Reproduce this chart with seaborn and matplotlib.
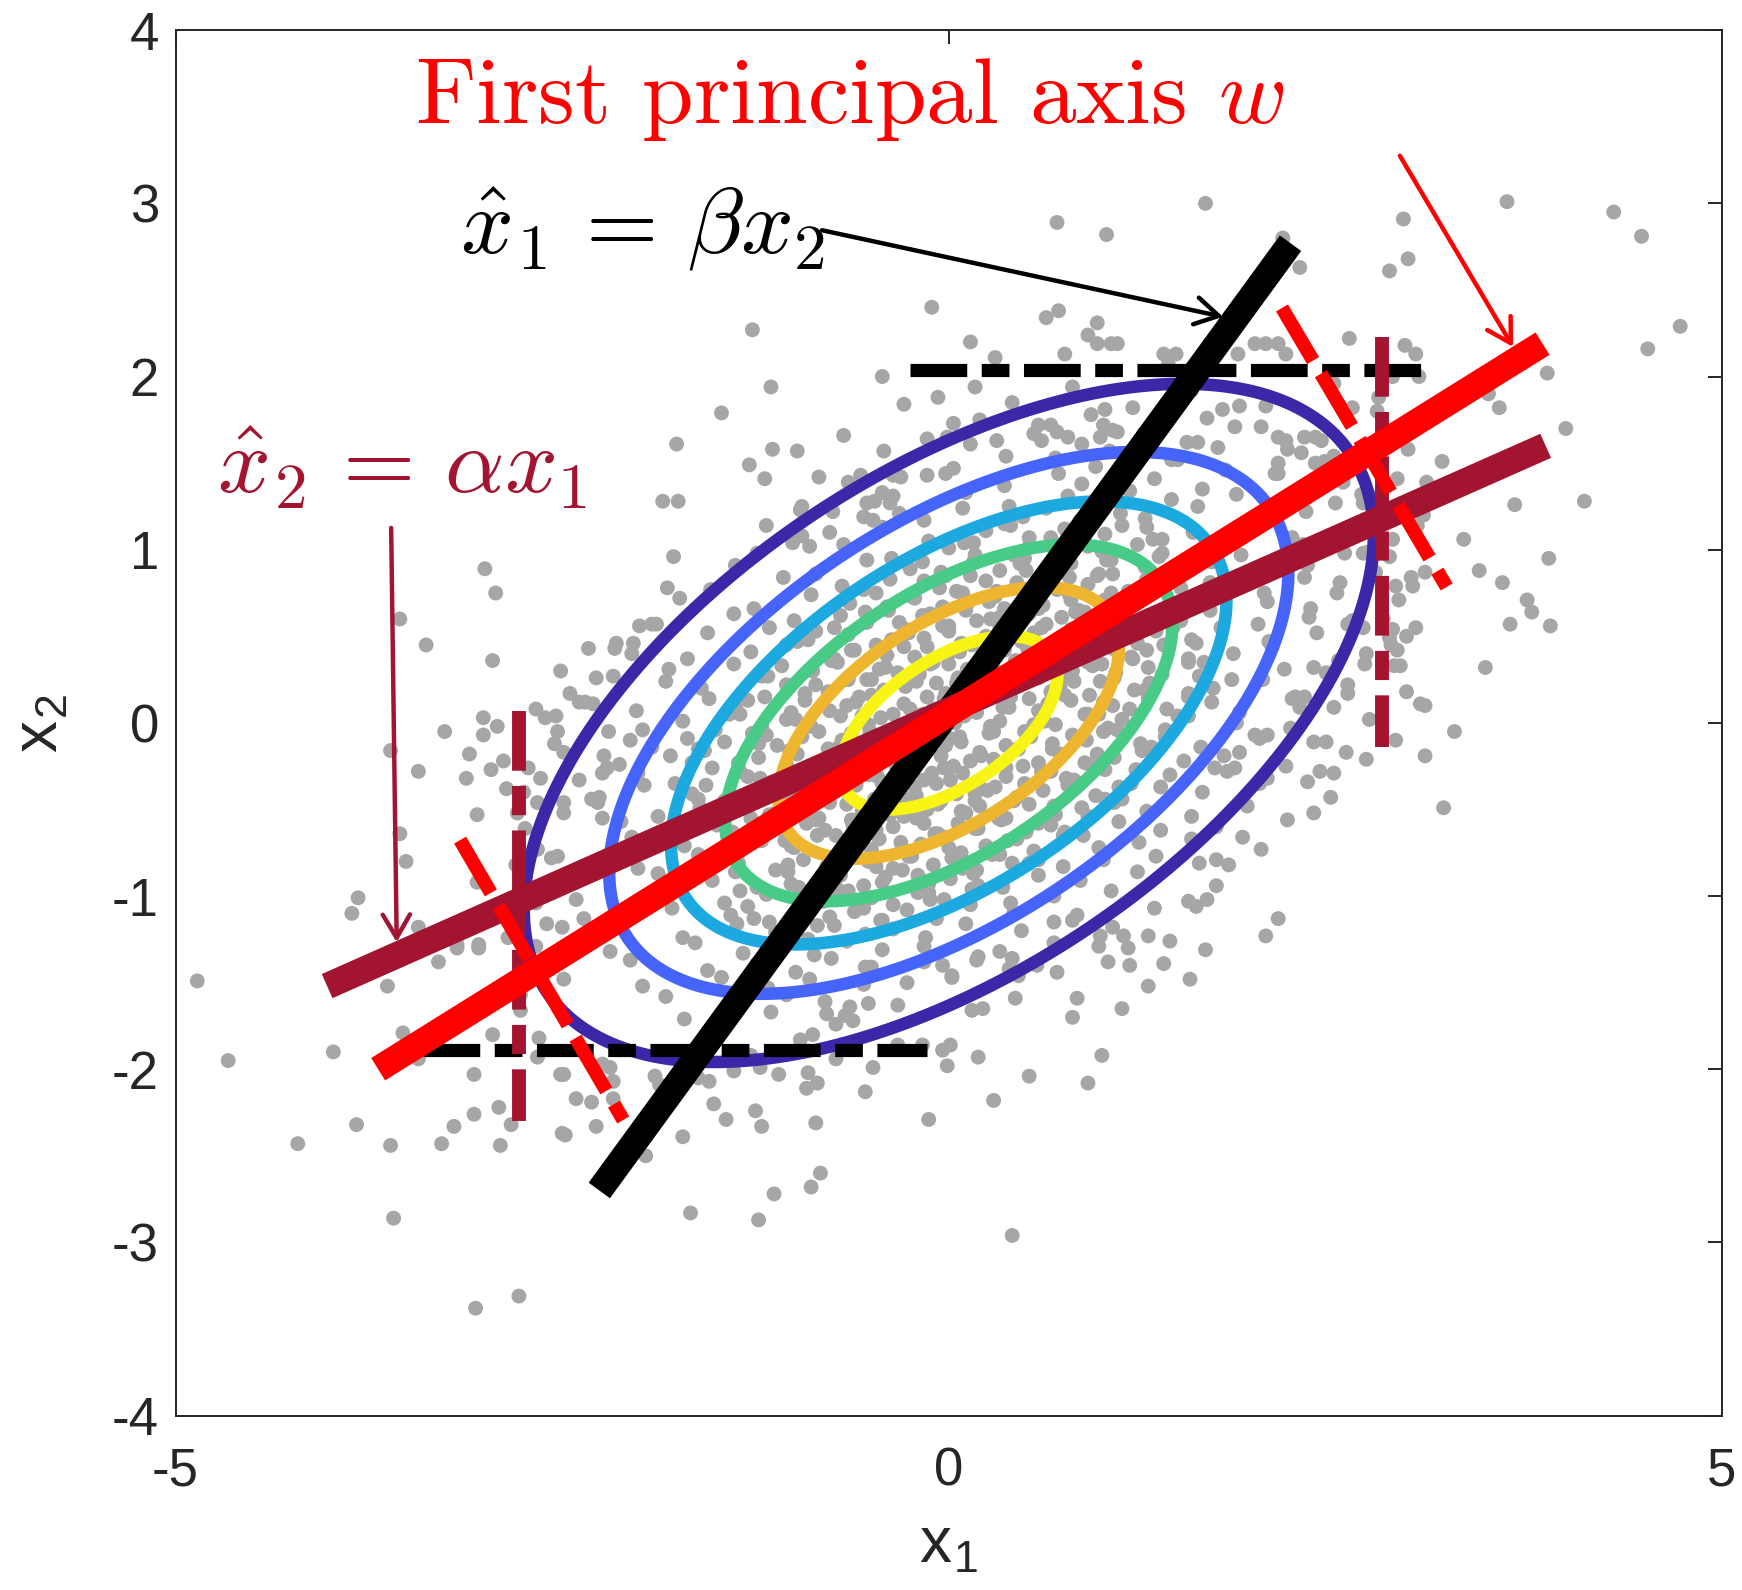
import numpy as np
import pandas as pd
import matplotlib
matplotlib.use("Agg")
import matplotlib.pyplot as plt
import seaborn as sns

# ---------------- data ----------------
# sparse points (mostly outside / near the outer contour)
outer_pts = [
(1.66,3.00),(3.61,3.01),(4.30,2.95),(4.48,2.81),(2.94,2.91),(0.70,2.89),(1.02,2.82),(2.27,2.63),(2.16,2.80),(2.97,2.68),
(2.85,2.61),(4.73,2.29),(4.52,2.16),(3.87,2.02),(3.49,1.90),(3.56,1.82),(3.99,1.70),(2.59,2.22),(2.95,2.18),(3.02,2.13),
(2.87,2.00),(3.04,2.00),(2.49,1.96),(2.78,1.88),(2.77,1.80),(2.61,1.82),(2.97,1.58),(3.19,1.51),(2.90,1.41),(3.09,1.39),
(2.67,1.32),(2.50,1.27),(2.68,1.27),(3.66,1.26),(4.11,1.28),(3.03,1.14),(3.07,1.20),(3.33,1.06),(2.87,1.06),(3.88,0.95),
(2.56,0.98),(2.68,0.98),(2.85,0.96),(2.49,1.54),(3.43,0.88),(3.58,0.81),(3.74,0.71),(3.77,0.64),(3.63,0.57),(3.89,0.56),
(2.53,0.81),(2.51,0.75),(2.99,0.84),(3.00,0.79),(3.08,0.87),(2.58,0.57),(2.61,0.59),(2.68,0.55),(2.87,0.54),(3.02,0.55),
(2.96,0.50),(2.86,0.45),(2.70,0.40),(2.69,0.34),(2.88,0.33),(3.47,0.32),(2.58,0.17),(3.08,0.10),(3.27,-0.05),(2.89,-0.10),
(2.70,-0.21),(3.08,-0.19),(3.20,-0.49),(2.36,0.32),(2.22,0.14),(2.27,0.09),(2.36,-0.11),(2.40,-0.28),(2.32,-0.34),(1.98,-0.07),
(2.06,-0.07),(1.88,-0.17),(1.80,-0.28),(1.85,-0.26),(1.90,-0.66),(1.62,-0.81),(1.73,-0.79),(1.60,-1.06),(1.67,-1.02),(2.13,-1.13),
(2.05,-1.23),(1.29,-1.23),(1.43,-1.26),(1.13,-1.23),(1.06,-1.18),(0.83,-1.11),(0.68,-1.15),(1.66,-1.31),(1.39,-1.39),(1.56,-1.48),
(1.29,-1.52),(1.17,-1.40),(1.03,-1.38),(1.16,-1.30),(0.97,-1.29),(0.70,-1.44),(0.57,-1.40),(0.45,-1.46),(0.41,-1.36),(0.33,-1.32),
(0.18,-1.37),(0.02,-1.47),(0.83,-1.59),(0.80,-1.70),(1.12,-1.65),(0.43,-1.59),(0.15,-1.66),(0.22,-1.65),(0.01,-1.86),(-0.01,-1.98),
(0.19,-1.93),(0.99,-1.92),(0.52,-2.04),(0.90,-2.08),(0.29,-2.18),(0.41,-2.96),(-0.54,-2.13),(-0.13,-2.29),(-0.86,-2.31),(-0.49,-1.99),
(-0.91,-2.02),(-0.92,-2.11),(-0.85,-2.08),(-1.25,-2.24),(-1.21,-2.33),(-1.10,-2.03),(-1.44,-2.29),(-1.52,-2.20),(-1.39,-2.01),(-1.22,-1.99),
(-1.55,-2.07),(-1.62,-2.05),(-1.72,-2.39),(-1.96,-2.50),(-0.83,-2.60),(-0.89,-2.68),(-1.13,-2.72),(-1.67,-2.83),(-1.23,-2.87),(-1.90,-2.04),
(-1.87,-2.09),(-2.17,-2.07),(-2.17,-2.17),(-2.19,-1.99),(-2.24,-1.97),(-2.41,-2.17),(-2.31,-2.19),(-2.28,-2.33),(-2.48,-2.38),(-2.49,-2.03),
(-0.33,-1.63),(-0.27,-1.50),(-0.54,-1.41),(-0.04,-1.40),(-0.73,-1.74),(-0.64,-1.64),(-0.67,-1.69),(-0.79,-1.68),(-0.80,-1.61),(-0.88,-1.80),
(-0.73,-1.94),(-0.33,-1.86),(-0.17,-1.86),(-0.04,-1.89),(-4.86,-1.49),(-4.66,-1.95),(-3.98,-1.90),(-3.53,-1.79),(-3.43,-1.94),(-3.63,-1.52),
(-3.30,-1.38),(-3.18,-1.30),(-3.04,-1.30),(-2.95,-1.80),(-3.07,-2.03),(-2.65,-1.82),(-2.66,-1.93),(-2.51,-2.03),(-2.77,-1.57),(-2.77,-1.66),
(-2.91,-2.22),(-3.07,-2.26),(-3.20,-2.33),(-2.83,-2.32),(-2.90,-2.44),(-3.28,-2.43),(-3.61,-2.44),(-3.83,-2.32),(-4.21,-2.43),(-2.50,-2.37),
(-3.59,-2.86),(-2.78,-3.31),(-3.06,-3.38),(-2.49,-1.48),(-3.00,0.89),(-2.93,0.75),(-3.55,0.60),(-3.38,0.45),(-2.95,0.36),(-2.51,0.30),
(-2.67,0.08),(-3.01,0.03),(-2.92,-0.02),(-3.26,-0.05),(-2.54,0.04),(-2.53,-0.05),(-3.61,-0.16),(-3.43,-0.28),(-3.10,-0.18),(-3.12,-0.32),
(-2.72,-0.26),(-2.64,-0.32),(-3.05,-0.53),(-2.66,-0.46),(-2.75,-0.40),(-3.55,-0.64),(-3.51,-0.80),(-2.80,-0.82),(-2.53,-0.77),(-3.05,-0.92),
(-3.82,-1.01),(-3.86,-1.10),(-3.43,-1.18),(-2.60,-1.16),(-2.50,-1.18),(-2.67,-1.04),(-3.18,-1.28),(-3.04,-1.28),(-2.85,-1.24),(-2.67,-1.29),
(-0.11,2.40),(-1.27,2.27),(-1.15,1.94),(-0.43,2.00),(-0.29,1.84),(-0.07,1.88),(-1.47,1.79),(-1.76,1.61),(-1.14,1.58),(-0.98,1.57),
(-1.29,1.49),(-1.19,1.41),(-0.84,1.42),(-0.68,1.66),(-0.42,1.57),(-1.85,1.28),(-1.75,1.28),(-1.18,1.14),(-1.78,0.96),(-0.65,1.39),
(-0.57,1.43),(-0.36,1.43),(-0.14,1.43),(-0.02,1.44),(-0.14,1.64),(-0.01,1.65),(-0.95,1.25),(-0.96,1.23),(-0.77,1.10),(-0.90,1.02),
(-1.01,1.04),(-0.43,1.33),(-0.36,1.31),(-0.53,1.27),(-0.55,1.19),(-0.49,1.17),(-0.32,1.21),(-0.38,1.27),(0.63,2.34),(0.71,2.38),
(0.96,2.31),(0.90,2.24),(0.96,2.19),(1.05,2.19),(1.09,2.19),(0.14,2.20),(0.30,2.11),(0.75,2.13),(1.39,2.13),(1.47,2.13),
(1.42,2.07),(1.87,2.13),(1.98,2.19),(2.05,2.19),(2.13,2.19),(2.18,2.13),(0.17,1.94),(0.80,1.94),(0.41,1.85),(1.01,1.81),
(1.19,1.82),(1.67,1.76),(1.77,1.81),(1.85,1.71),(2.05,1.83),(2.13,1.65),(2.18,1.63),(2.30,1.65),(2.37,1.65),(2.41,1.63),
(2.28,1.56),(2.13,1.50),(2.13,1.44),(2.37,1.50),(2.45,1.41),(0.03,1.73),(0.20,1.75),(0.14,1.61),(0.37,1.54),(0.55,1.67),
(0.60,1.63),(0.66,1.72),(0.70,1.68),(0.77,1.65),(0.98,1.65),(1.00,1.72),(1.06,1.69),(1.09,1.68),(0.86,1.61),(1.54,1.62),
(1.74,1.59),(1.48,1.52),(-1.82,0.78),(-2.33,0.43),(-2.15,0.46),(-2.00,0.56),(-1.92,0.57),(-2.05,0.40),(-2.35,0.12),(-2.30,0.11),
(-2.17,0.27),(-2.23,-0.19),(-2.21,-0.26),(-2.24,-0.29),(-2.06,-0.10),(-2.49,-0.46),(-2.49,-0.52),(-2.24,-0.55),(-2.26,-0.43),
]

# dense core, estimated row by row (x values, y values)
core_x_rows = [
[1.57],
[0.92,1.88],
[0.58,1.26,2.02],
[0.31,1.04,1.61,2.19],
[0.03,0.69,0.95,1.44,1.79,2.43],
[-0.31,0.36,0.71,0.86,1.33,1.64,2.11,2.55],
[-0.48,0.11,0.39,0.77,0.93,1.17,1.44,1.86,2.19,2.76],
[-0.75,-0.16,0.09,0.48,0.63,0.91,1.11,1.27,1.61,1.95,2.31,2.83],
[-0.95,-0.43,-0.13,0.24,0.36,0.66,0.75,1.01,1.12,1.38,1.58,1.94,2.22,2.68],
[-1.24,-0.68,-0.37,0.00,0.16,0.42,0.52,0.74,0.88,0.99,1.22,1.36,1.67,1.89,2.29,2.72],
[-1.38,-0.86,-0.53,-0.25,-0.02,0.16,0.33,0.49,0.62,0.79,0.97,1.02,1.27,1.45,1.70,1.96,2.32,2.76],
[-1.54,-1.07,-0.69,-0.47,-0.16,-0.06,0.14,0.31,0.44,0.59,0.70,0.90,0.96,1.16,1.28,1.50,1.69,2.04,2.30,2.89],
[-1.74,-1.26,-0.89,-0.64,-0.39,-0.24,-0.04,0.09,0.26,0.36,0.51,0.61,0.78,0.84,1.01,1.20,1.30,1.55,1.68,2.06,2.34,2.91],
[-1.89,-1.39,-1.00,-0.74,-0.54,-0.32,-0.17,0.00,0.11,0.27,0.37,0.52,0.60,0.73,0.88,0.99,1.17,1.29,1.50,1.69,2.00,2.33,2.81],
[-2.04,-1.56,-1.16,-0.91,-0.65,-0.47,-0.28,-0.16,0.00,0.08,0.24,0.33,0.47,0.55,0.70,0.79,0.94,1.04,1.22,1.34,1.57,1.76,2.07,2.38,2.85],
[-2.16,-1.69,-1.28,-1.05,-0.76,-0.61,-0.40,-0.29,-0.10,0.00,0.15,0.21,0.36,0.43,0.57,0.66,0.80,0.90,1.06,1.18,1.39,1.55,1.84,2.09,2.52,2.90],
[-2.28,-1.81,-1.39,-1.17,-0.88,-0.72,-0.50,-0.41,-0.19,-0.12,0.06,0.12,0.27,0.33,0.50,0.55,0.74,0.80,0.99,1.07,1.29,1.38,1.65,1.83,2.17,2.44,2.92],
[-2.45,-1.83,-1.60,-1.19,-1.05,-0.78,-0.65,-0.50,-0.28,-0.21,-0.02,0.05,0.19,0.26,0.42,0.47,0.66,0.72,0.91,0.98,1.20,1.30,1.55,1.71,2.03,2.30,2.58,2.96],
[-2.39,-2.02,-1.55,-1.38,-1.02,-0.93,-0.66,-0.58,-0.36,-0.29,-0.10,-0.03,0.12,0.18,0.35,0.40,0.58,0.64,0.79,0.97,1.06,1.29,1.41,1.70,1.88,2.24,2.49,3.05],
[-2.61,-1.98,-1.72,-1.35,-1.21,-0.99,-0.84,-0.70,-0.52,-0.44,-0.30,-0.17,-0.11,0.04,0.10,0.27,0.33,0.49,0.61,0.69,0.88,1.03,1.12,1.40,1.55,1.86,2.21,2.72],
[-3.01,-2.55,-2.20,-1.92,-1.69,-1.45,-1.27,-1.11,-0.95,-0.78,-0.69,-0.51,-0.42,-0.24,-0.15,0.01,0.08,0.26,0.37,0.53,0.67,0.89,1.00,1.24,1.41,1.63,2.01,2.44],
[-2.88,-2.49,-2.13,-1.80,-1.62,-1.36,-1.23,-1.03,-0.90,-0.71,-0.61,-0.46,-0.35,-0.19,-0.05,0.03,0.20,0.29,0.45,0.58,0.72,0.91,1.07,1.25,1.52,1.78,2.18,2.57],
[-2.96,-2.39,-2.01,-1.77,-1.53,-1.30,-1.14,-0.98,-0.83,-0.68,-0.52,-0.43,-0.27,-0.16,-0.03,0.09,0.19,0.37,0.48,0.66,0.81,1.01,1.18,1.43,1.72,2.06,2.49],
[-2.86,-2.31,-1.97,-1.66,-1.45,-1.24,-1.06,-0.91,-0.74,-0.60,-0.48,-0.33,-0.21,-0.08,0.05,0.17,0.30,0.44,0.61,0.77,0.95,1.12,1.37,1.64,2.01,2.47],
[-2.79,-2.27,-1.88,-1.61,-1.39,-1.16,-0.99,-0.84,-0.66,-0.56,-0.40,-0.29,-0.14,-0.05,0.11,0.20,0.37,0.52,0.69,0.86,1.07,1.28,1.57,1.93,2.36],
[-2.74,-2.12,-1.77,-1.50,-1.28,-1.06,-0.92,-0.73,-0.63,-0.47,-0.36,-0.21,-0.09,0.06,0.19,0.34,0.50,0.66,0.87,1.10,1.37,1.73,2.19],
[-2.66,-2.05,-1.71,-1.42,-1.21,-1.00,-0.85,-0.69,-0.57,-0.45,-0.30,-0.18,-0.03,0.08,0.24,0.38,0.55,0.74,0.97,1.23,1.57,2.02],
[-2.57,-2.01,-1.62,-1.36,-1.12,-0.94,-0.79,-0.64,-0.52,-0.36,-0.24,-0.10,0.02,0.18,0.33,0.52,0.74,1.00,1.34,1.81],
[-2.47,-1.88,-1.53,-1.24,-1.04,-0.85,-0.70,-0.55,-0.41,-0.30,-0.13,0.01,0.16,0.35,0.58,0.85,1.22,1.73],
[-2.41,-1.85,-1.45,-1.18,-0.97,-0.81,-0.65,-0.50,-0.36,-0.20,-0.03,0.15,0.40,0.68,1.05,1.55],
[-2.36,-1.79,-1.41,-1.16,-0.93,-0.77,-0.61,-0.44,-0.27,-0.08,0.14,0.42,0.80,1.33],
[-2.26,-1.72,-1.37,-1.12,-0.91,-0.74,-0.54,-0.36,-0.15,0.11,0.47,0.98],
[-2.19,-1.64,-1.33,-1.08,-0.87,-0.66,-0.43,-0.16,0.19,0.68],
[-2.06,-1.56,-1.24,-0.99,-0.76,-0.50,-0.16,0.39],
[-1.98,-1.47,-1.17,-0.90,-0.55,0.02],
[-1.83,-1.40,-1.05,-0.52],
[-1.71,-1.15,-0.62],
[-1.52,-0.96],
[-1.28],
]
core_y_rows = [
[1.92],
[1.78,1.83],
[1.72,1.67,1.71],
[1.63,1.57,1.62,1.58],
[1.47,1.53,1.48,1.52,1.46,1.51],
[1.42,1.37,1.44,1.38,1.41,1.35,1.44,1.39],
[1.28,1.33,1.25,1.31,1.26,1.34,1.29,1.32,1.26,1.30],
[1.22,1.17,1.24,1.19,1.24,1.15,1.21,1.18,1.25,1.17,1.22,1.19],
[1.08,1.13,1.05,1.11,1.15,1.07,1.12,1.09,1.14,1.06,1.10,1.14,1.07,1.11],
[0.98,1.03,0.95,1.01,1.04,0.97,1.02,0.95,1.04,0.99,1.03,0.96,1.01,0.97,1.03,0.99],
[0.91,0.86,0.94,0.89,0.85,0.93,0.88,0.95,0.87,0.92,0.86,0.94,0.90,0.85,0.93,0.88,0.91,0.87],
[0.77,0.84,0.79,0.75,0.82,0.78,0.85,0.76,0.81,0.83,0.77,0.80,0.85,0.76,0.83,0.78,0.81,0.75,0.84,0.79],
[0.72,0.66,0.74,0.69,0.65,0.73,0.67,0.75,0.70,0.66,0.72,0.68,0.74,0.65,0.71,0.69,0.75,0.67,0.73,0.70,0.66,0.71],
[0.57,0.63,0.59,0.55,0.64,0.58,0.62,0.56,0.65,0.60,0.57,0.63,0.55,0.61,0.64,0.58,0.56,0.62,0.59,0.65,0.57,0.61,0.60],
[0.46,0.52,0.55,0.48,0.51,0.45,0.54,0.49,0.53,0.46,0.50,0.55,0.47,0.52,0.45,0.54,0.49,0.51,0.46,0.53,0.48,0.55,0.47,0.52,0.49],
[0.43,0.37,0.41,0.45,0.36,0.42,0.39,0.44,0.35,0.40,0.45,0.38,0.42,0.36,0.44,0.39,0.41,0.35,0.43,0.38,0.45,0.37,0.40,0.44,0.36,0.42],
[0.26,0.31,0.34,0.27,0.30,0.35,0.25,0.32,0.28,0.34,0.26,0.31,0.35,0.29,0.25,0.33,0.27,0.30,0.34,0.26,0.32,0.28,0.35,0.25,0.31,0.29,0.33],
[0.17,0.24,0.20,0.15,0.22,0.18,0.25,0.16,0.21,0.24,0.17,0.23,0.19,0.15,0.22,0.25,0.18,0.21,0.16,0.24,0.19,0.23,0.17,0.20,0.25,0.15,0.22,0.18],
[0.12,0.07,0.14,0.09,0.06,0.13,0.10,0.15,0.05,0.11,0.08,0.14,0.06,0.12,0.09,0.15,0.07,0.11,0.13,0.05,0.10,0.14,0.08,0.12,0.06,0.15,0.09,0.11],
[0.03,-0.04,0.01,0.05,-0.02,0.02,-0.05,0.04,-0.01,0.03,-0.03,0.05,-0.04,0.00,0.04,-0.02,0.01,-0.05,0.03,-0.01,0.05,-0.03,0.02,-0.04,0.04,0.00,-0.03,0.02],
[-0.07,-0.12,-0.05,-0.14,-0.09,-0.11,-0.06,-0.13,-0.08,-0.15,-0.10,-0.05,-0.12,-0.07,-0.14,-0.09,-0.11,-0.06,-0.13,-0.08,-0.15,-0.10,-0.05,-0.12,-0.07,-0.14,-0.09,-0.11],
[-0.22,-0.17,-0.24,-0.19,-0.15,-0.23,-0.20,-0.16,-0.25,-0.18,-0.21,-0.24,-0.16,-0.22,-0.19,-0.25,-0.17,-0.21,-0.15,-0.23,-0.18,-0.24,-0.20,-0.16,-0.22,-0.19,-0.25,-0.17],
[-0.27,-0.33,-0.29,-0.35,-0.26,-0.31,-0.34,-0.28,-0.25,-0.32,-0.30,-0.35,-0.27,-0.33,-0.26,-0.29,-0.34,-0.31,-0.25,-0.28,-0.33,-0.27,-0.35,-0.30,-0.26,-0.32,-0.29],
[-0.38,-0.44,-0.36,-0.41,-0.45,-0.39,-0.35,-0.43,-0.40,-0.36,-0.44,-0.38,-0.42,-0.35,-0.41,-0.45,-0.37,-0.43,-0.39,-0.36,-0.42,-0.44,-0.37,-0.40,-0.35,-0.43],
[-0.52,-0.46,-0.54,-0.49,-0.45,-0.53,-0.48,-0.55,-0.47,-0.51,-0.46,-0.54,-0.50,-0.45,-0.52,-0.48,-0.55,-0.47,-0.53,-0.49,-0.46,-0.51,-0.54,-0.48,-0.52],
[-0.61,-0.57,-0.64,-0.59,-0.55,-0.63,-0.58,-0.65,-0.56,-0.62,-0.60,-0.55,-0.64,-0.58,-0.61,-0.56,-0.63,-0.59,-0.65,-0.57,-0.62,-0.60,-0.56],
[-0.73,-0.66,-0.71,-0.75,-0.68,-0.72,-0.65,-0.74,-0.69,-0.67,-0.73,-0.70,-0.66,-0.75,-0.71,-0.68,-0.74,-0.65,-0.72,-0.69,-0.67,-0.73],
[-0.78,-0.84,-0.76,-0.81,-0.85,-0.79,-0.83,-0.75,-0.80,-0.84,-0.77,-0.82,-0.78,-0.85,-0.76,-0.81,-0.83,-0.79,-0.77,-0.82],
[-0.93,-0.87,-0.91,-0.95,-0.86,-0.92,-0.88,-0.94,-0.89,-0.85,-0.93,-0.90,-0.87,-0.95,-0.88,-0.91,-0.86,-0.94],
[-1.02,-0.96,-1.04,-0.99,-0.95,-1.03,-0.97,-1.01,-1.05,-0.98,-1.02,-0.96,-1.04,-1.00,-0.97,-1.03],
[-1.13,-1.07,-1.11,-1.15,-1.06,-1.12,-1.09,-1.14,-1.08,-1.13,-1.05,-1.10,-1.14,-1.07],
[-1.18,-1.24,-1.16,-1.21,-1.25,-1.17,-1.22,-1.19,-1.24,-1.16,-1.20,-1.23],
[-1.32,-1.27,-1.33,-1.28,-1.34,-1.26,-1.31,-1.29,-1.35,-1.27],
[-1.37,-1.43,-1.39,-1.44,-1.36,-1.41,-1.38,-1.42],
[-1.52,-1.47,-1.53,-1.48,-1.51,-1.46],
[-1.58,-1.63,-1.57,-1.62],
[-1.71,-1.67,-1.72],
[-1.79,-1.83],
[-1.92],
]

# extra points filling the innermost, densest part (interleaved rows)
inner_x_rows = [
[0.40,0.85,1.28],
[0.10,0.52,0.90,1.32],
[-0.17,0.17,0.46,0.75,1.05,1.38],
[-0.38,-0.05,0.24,0.50,0.78,1.06,1.40],
[-0.55,-0.22,0.05,0.30,0.55,0.79,1.05,1.36],
[-0.70,-0.40,-0.12,0.12,0.33,0.58,0.82,1.08,1.42],
[-0.86,-0.53,-0.26,-0.04,0.18,0.40,0.63,0.85,1.12,1.45],
[-0.98,-0.63,-0.37,-0.14,0.07,0.30,0.51,0.74,1.01,1.28,1.60],
[-1.08,-0.74,-0.45,-0.22,0.00,0.22,0.44,0.67,0.93,1.19,1.55],
[-1.21,-0.86,-0.53,-0.33,-0.08,0.12,0.33,0.58,0.81,1.08,1.33,1.62],
[-1.30,-0.93,-0.60,-0.42,-0.14,0.06,0.24,0.52,0.75,1.00,1.27,1.55],
[-1.42,-1.05,-0.77,-0.56,-0.25,-0.05,0.18,0.39,0.62,0.90,1.17,1.48],
[-1.51,-1.18,-0.89,-0.63,-0.38,-0.16,0.07,0.29,0.55,0.80,1.09,1.40],
[-1.58,-1.23,-0.98,-0.71,-0.48,-0.27,-0.02,0.21,0.45,0.67,0.96,1.31],
[-1.66,-1.35,-1.05,-0.79,-0.55,-0.34,-0.11,0.14,0.37,0.60,0.88,1.21],
[-1.57,-1.22,-0.95,-0.69,-0.46,-0.22,0.01,0.25,0.49,0.76,1.10],
[-1.62,-1.30,-1.02,-0.77,-0.53,-0.29,-0.07,0.17,0.42,0.68,1.01],
[-1.46,-1.12,-0.86,-0.62,-0.38,-0.16,0.08,0.32,0.58,0.90],
[-1.40,-1.06,-0.80,-0.55,-0.31,-0.07,0.17,0.44,0.75],
[-1.35,-1.02,-0.76,-0.50,-0.26,0.00,0.28,0.58],
[-1.38,-1.04,-0.75,-0.47,-0.20,0.09,0.41],
[-1.35,-1.02,-0.72,-0.43,-0.13,0.19],
[-1.30,-0.92,-0.55,-0.12],
[-1.26,-0.85,-0.43],
]
inner_y_rows = [
[1.14,1.17,1.13],
[1.04,1.07,1.02,1.06],
[0.93,0.97,0.92,0.96,0.94,0.98],
[0.83,0.87,0.82,0.88,0.84,0.86,0.81],
[0.77,0.72,0.76,0.73,0.79,0.71,0.75,0.78],
[0.62,0.67,0.63,0.69,0.61,0.66,0.64,0.68,0.62],
[0.53,0.58,0.52,0.56,0.59,0.54,0.57,0.51,0.58,0.55],
[0.47,0.42,0.48,0.44,0.41,0.47,0.43,0.49,0.45,0.42,0.46],
[0.33,0.37,0.31,0.38,0.34,0.36,0.32,0.39,0.33,0.37,0.35],
[0.27,0.22,0.25,0.29,0.23,0.28,0.21,0.26,0.24,0.29,0.22,0.27],
[0.13,0.17,0.12,0.19,0.15,0.11,0.18,0.14,0.16,0.12,0.19,0.15],
[0.05,0.02,0.07,0.04,0.08,0.03,0.06,0.09,0.01,0.05,0.08,0.04],
[-0.04,-0.07,-0.02,-0.06,-0.09,-0.03,-0.08,-0.05,-0.01,-0.07,-0.04,-0.08],
[-0.16,-0.12,-0.18,-0.14,-0.11,-0.17,-0.13,-0.19,-0.15,-0.12,-0.18,-0.14],
[-0.23,-0.28,-0.24,-0.21,-0.27,-0.25,-0.29,-0.22,-0.26,-0.28,-0.23,-0.27],
[-0.36,-0.32,-0.38,-0.34,-0.31,-0.37,-0.33,-0.39,-0.35,-0.32,-0.37],
[-0.44,-0.48,-0.42,-0.46,-0.49,-0.43,-0.47,-0.41,-0.45,-0.48,-0.44],
[-0.57,-0.52,-0.56,-0.59,-0.53,-0.58,-0.51,-0.55,-0.58,-0.54],
[-0.63,-0.68,-0.62,-0.66,-0.69,-0.64,-0.61,-0.67,-0.63],
[-0.74,-0.71,-0.78,-0.73,-0.77,-0.72,-0.76,-0.79],
[-0.86,-0.82,-0.87,-0.83,-0.88,-0.84,-0.81],
[-0.97,-0.93,-0.96,-0.92,-0.98,-0.94],
[-1.06,-1.03,-1.07,-1.02],
[-1.13,-1.17,-1.14],
]

# covariance of the Gaussian whose density contours are drawn, and contour levels
cov = [[1.97, 0.775], [0.775, 1.00]]
contour_levels = [0.02, 0.04, 0.06, 0.08, 0.10, 0.12]
contour_colors = ["#3E26A8", "#4664FA", "#1CA9DF", "#48CB86", "#EEB52F", "#F8F515"]

# regression / principal-axis lines (endpoints)
beta_line_x = [-2.26, 2.21]      # x1 = beta * x2  (black)
beta_line_y = [-2.70, 2.77]
pca_line_x = [-3.69, 3.84]       # first principal axis (red)
pca_line_y = [-2.00, 2.19]
alpha_line_x = [-4.02, 3.86]     # x2 = alpha * x1 (dark red)
alpha_line_y = [-1.52, 1.60]

# black dash-dot horizontals
hdash_top_x = [-0.25, 3.09]; hdash_top_y = [2.04, 2.04]
hdash_bot_x = [-3.40, -0.14]; hdash_bot_y = [-1.89, -1.89]
# dark-red dash-dot verticals
vdash_right_x = [2.80, 2.80]; vdash_right_y = [2.23, -0.14]
vdash_left_x = [-2.78, -2.78]; vdash_left_y = [0.07, -2.30]
# red dashed perpendiculars
pdash_top_x = [2.155, 3.22]; pdash_top_y = [2.396, 0.785]
pdash_bot_x = [-3.16, -2.105]; pdash_bot_y = [-0.677, -2.293]

# arrows: (start, tip)
arrow_beta = ((-0.82, 2.845), (1.774, 2.345))
arrow_w = ((2.917, 3.275), (3.649, 2.171))
arrow_alpha = ((-3.606, 1.126), (-3.570, -1.267))

x_ticks = [-5, 0, 5]
y_ticks = [-4, -3, -2, -1, 0, 1, 2, 3, 4]

DARKRED = "#A2142F"
AXCOL = "#262626"

# ---------------- build data frame ----------------
xs = ([p[0] for p in outer_pts] + [v for row in core_x_rows for v in row]
      + [v for row in inner_x_rows for v in row])
ys = ([p[1] for p in outer_pts] + [v for row in core_y_rows for v in row]
      + [v for row in inner_y_rows for v in row])
df = pd.DataFrame({"x1": xs, "x2": ys})

# ---------------- style ----------------
sns.set_theme(style="white")
plt.rcParams["font.family"] = ["Liberation Sans", "DejaVu Sans"]
plt.rcParams["mathtext.fontset"] = "cm"
plt.rcParams["axes.unicode_minus"] = False

fig = plt.figure(figsize=(17.42, 15.90), dpi=100)
ax = fig.add_axes([0.1008, 0.1097, 0.8877, 0.8713])

sns.scatterplot(data=df, x="x1", y="x2", s=115, color="#A6A6A6", edgecolor="none",
                linewidth=0, ax=ax, zorder=1, legend=False)

# Gaussian density contours
gx = np.linspace(-5, 5, 500)
gy = np.linspace(-4, 4, 500)
GX, GY = np.meshgrid(gx, gy)
C = np.array(cov)
Ci = np.linalg.inv(C)
q = Ci[0, 0] * GX**2 + 2 * Ci[0, 1] * GX * GY + Ci[1, 1] * GY**2
Z = np.exp(-0.5 * q) / (2 * np.pi * np.sqrt(np.linalg.det(C)))
ax.contour(GX, GY, Z, levels=contour_levels, colors=contour_colors, linewidths=9, zorder=2)

# dash-dot lines
dd = (4.3, 1.1, 2.1, 1.1)
ax.plot(hdash_top_x, hdash_top_y, color="black", lw=9.5, dashes=dd, dash_capstyle="butt", zorder=3)
ax.plot(hdash_bot_x, hdash_bot_y, color="black", lw=9.5, dashes=dd, dash_capstyle="butt", zorder=3)
ax.plot(vdash_right_x, vdash_right_y, color=DARKRED, lw=10, dashes=dd, dash_capstyle="butt", zorder=3)
ax.plot(vdash_left_x, vdash_left_y, color=DARKRED, lw=10, dashes=dd, dash_capstyle="butt", zorder=3)

# solid lines
sns.lineplot(x=beta_line_x, y=beta_line_y, color="black", lw=19, sort=False, estimator=None,
             ax=ax, zorder=4, solid_capstyle="butt")
sns.lineplot(x=alpha_line_x, y=alpha_line_y, color=DARKRED, lw=19, sort=False, estimator=None,
             ax=ax, zorder=5, solid_capstyle="butt")

# red dashed perpendiculars
ax.plot(pdash_top_x, pdash_top_y, color="red", lw=10, dashes=(4.4, 1.1), dash_capstyle="butt", zorder=6)
ax.plot(pdash_bot_x, pdash_bot_y, color="red", lw=10, dashes=(4.4, 1.1), dash_capstyle="butt", zorder=6)

sns.lineplot(x=pca_line_x, y=pca_line_y, color="red", lw=19, sort=False, estimator=None,
             ax=ax, zorder=7, solid_capstyle="butt")

# arrows
for (start, tip), col, lw in [(arrow_beta, "black", 3.2), (arrow_w, "red", 3.2), (arrow_alpha, DARKRED, 3.2)]:
    ax.annotate("", xy=tip, xytext=start,
                arrowprops=dict(arrowstyle="->,head_length=0.6,head_width=0.35", color=col, lw=lw,
                                shrinkA=0, shrinkB=0, mutation_scale=28),
                zorder=8)

# texts
ax.text(-3.455, 3.467, "First principal axis $w$", color="red", fontsize=67,
        family="cmr10", va="baseline", ha="left", zorder=9)
ax.text(-3.16, 2.71, r"$\hat{x}_1\,=\,\beta x_2$", color="black", fontsize=67,
        va="baseline", ha="left", zorder=9)
ax.text(-4.73, 1.325, r"$\hat{x}_2\,=\,\alpha x_1$", color=DARKRED, fontsize=67,
        va="baseline", ha="left", zorder=9)

# axes
ax.set_xlim(-5, 5)
ax.set_ylim(-4, 4)
ax.set_xticks(x_ticks)
ax.set_yticks(y_ticks)
ax.set_xticklabels([str(t) for t in x_ticks])
ax.set_yticklabels([str(t) for t in y_ticks])
ax.tick_params(direction="in", length=10, width=1.4, colors=AXCOL, labelsize=38,
               top=True, right=True)
ax.tick_params(axis="x", pad=22)
ax.tick_params(axis="y", pad=12)
for sp in ax.spines.values():
    sp.set_visible(True)
    sp.set_color(AXCOL)
    sp.set_linewidth(1.4)
ax.set_xlabel(r"x$_{\mathregular{1}}$", fontsize=46, color=AXCOL, labelpad=14)
ax.set_ylabel(r"x$_{\mathregular{2}}$", fontsize=46, color=AXCOL, labelpad=30)
ax.grid(False)

fig.savefig("out.png", dpi=100)
